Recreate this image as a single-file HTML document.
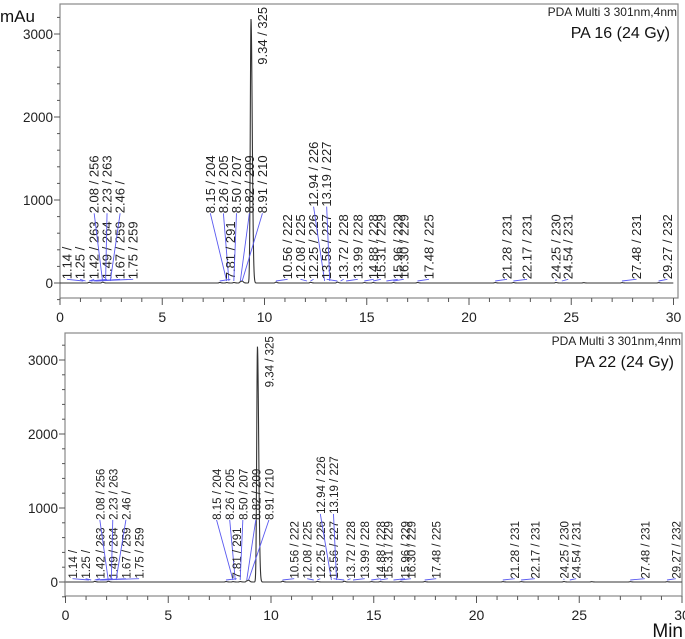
<!DOCTYPE html>
<html><head><meta charset="utf-8">
<style>
html,body{margin:0;padding:0;background:#fff;}
svg{display:block;font-family:"Liberation Sans",sans-serif;}
</style></head>
<body>
<svg id="chart" width="685" height="639" viewBox="0 0 685 639" xmlns="http://www.w3.org/2000/svg">
<text x="0" y="22" font-size="17" fill="#111">mAu</text>
<text x="683" y="637" font-size="19" fill="#111" text-anchor="end">Min</text>
</svg>
<script>
// ---- data ----
const labelTexts = ["1.14 /","1.25 /","1.42 / 263","2.08 / 256","1.49 / 264","2.23 / 263","1.67 / 259","2.46 /","1.75 / 259",
 "8.15 / 204","8.26 / 205","7.81 / 291","8.50 / 207","8.82 / 209","8.91 / 210","9.34 / 325",
 "10.56 / 222","12.08 / 225","12.25 / 226","12.94 / 226","13.56 / 227","13.19 / 227","13.72 / 228","13.99 / 228",
 "14.88 / 228","15.31 / 229","15.96 / 229","16.30 / 229","17.48 / 225","21.28 / 231","22.17 / 231",
 "24.25 / 230","24.54 / 231","27.48 / 231","29.27 / 232"];
const labelTimes = [1.14,1.25,1.42,2.08,1.49,2.23,1.67,2.46,1.75,8.15,8.26,7.81,8.50,8.82,8.91,9.34,
 10.56,12.08,12.25,12.94,13.56,13.19,13.72,13.99,14.88,15.31,15.96,16.30,17.48,21.28,22.17,24.25,24.54,27.48,29.27];
const labelPos = [0.34,0.98,1.67,1.67,2.30,2.30,2.94,2.94,3.58,7.35,7.99,8.33,8.63,9.26,9.90,9.90,
 11.13,11.76,12.40,12.40,13.04,13.04,13.87,14.56,15.34,15.69,16.52,16.81,18.04,21.86,22.84,24.26,24.85,28.19,29.7];
const labelBase = [45,45,45,840,45,840,45,840,45,840,840,45,840,840,840,2630,
 45,45,45,920,45,920,45,45,45,45,45,45,45,45,45,45,45,45,45];
const peakTimes = [1.42,2.08,7.81,8.15,8.50,8.82,8.91,9.34,10.56,12.25,13.56,14.88,15.31,16.30,17.48,21.28,22.17,24.25,25.6,27.48,29.27];
const peakHeights = [8,10,6,5,6,15,20,3180,10,8,10,5,5,5,6,5,5,6,4,4,4];
const xTickLabels = ["0","5","10","15","20","25","30"];
const yTickLabels = ["0","1000","2000","3000"];

const panels = [
 {name:"top", x0:60, ppm:20.45, y0:283, ppk:83, fl:60, ft:4, fr:678, fb:298, lf:13,
  title1:"PDA Multi 3 301nm,4nm", title2:"PA 16 (24 Gy)", ty:16},
 {name:"bottom", x0:65.5, ppm:20.55, y0:582, ppk:74, fl:65, ft:333, fr:682, fb:596, lf:11.5,
  title1:"PDA Multi 3 301nm,4nm", title2:"PA 22 (24 Gy)", ty:345}
];
const NS="http://www.w3.org/2000/svg";
const svg=document.getElementById('chart');
function mk(tag,attrs,parent){const e=document.createElementNS(NS,tag);for(const k in attrs)e.setAttribute(k,attrs[k]);(parent||svg).appendChild(e);return e;}

panels.forEach(p=>{
 const X=t=>p.x0+t*p.ppm, Y=v=>p.y0-v*p.ppk/1000;
 const g=mk('g',{});
 
 
 const fr=mk('rect',{x:p.fl,y:p.ft,width:p.fr-p.fl,height:p.fb-p.ft,fill:'none',stroke:'#888','stroke-width':1.2},g);
 
 
 for(let v=-200;v<=3200;v+=200){
  const major=v%1000===0;
  const tk=mk('line',{x1:p.fl-(major?6:3),x2:p.fl,y1:Y(v),y2:Y(v),stroke:'#555','stroke-width':1},g);
  
  
 }
 yTickLabels.forEach(s=>{
  const t=mk('text',{x:p.fl-7,y:Y(+s)+5,'font-size':13.5,'text-anchor':'end',fill:'#222'},g);
  t.textContent=s;
  
  
 });
 for(let m=0;m<=30;m++){
  const major=m%5===0;
  const tk=mk('line',{x1:X(m),x2:X(m),y1:p.fb,y2:p.fb+(major?7:4),stroke:'#555','stroke-width':1},g);
  
  
 }
 xTickLabels.forEach(s=>{
  const t=mk('text',{x:X(+s),y:p.fb+24,'font-size':14,'text-anchor':'middle',fill:'#222'},g);
  t.textContent=s;
  
  
 });
 let d='';
 for(let t=0;t<=30;t+=0.01){
  let v=0;
  peakTimes.forEach((pt,i)=>{const dt=t-pt;const s=dt<0?0.035:0.06;v+=peakHeights[i]*Math.exp(-dt*dt/(2*s*s));});
  d+=(d?'L':'M')+X(t).toFixed(2)+','+Y(v).toFixed(2);
 }
 const tr=mk('path',{d:d,fill:'none',stroke:'#333','stroke-width':1.1},g);
 
 
 labelTexts.forEach((s,i)=>{
  const lx=X(labelPos[i]), ly=Y(labelBase[i]);
  if(labelBase[i]<2000){
   const ln=mk('line',{x1:lx,y1:ly,x2:X(labelTimes[i]),y2:Y(0)-2,stroke:'#5a5af0','stroke-width':0.9},g);
   
   
  }
  const t=mk('text',{x:0,y:0,'font-size':p.lf,fill:'#222',transform:`translate(${lx+4.5},${ly}) rotate(-90)`},g);
  t.textContent=s;
  
  
 });
 const t1=mk('text',{x:p.fr-1,y:p.ty,'font-size':12,'text-anchor':'end',fill:'#222'},g);
 t1.textContent=p.title1;
 
 
 const t2=mk('text',{x:p.fr-8,y:p.ty+22,'font-size':16,'text-anchor':'end',fill:'#111'},g);
 t2.textContent=p.title2;
 
 
});
</script>
</body></html>
